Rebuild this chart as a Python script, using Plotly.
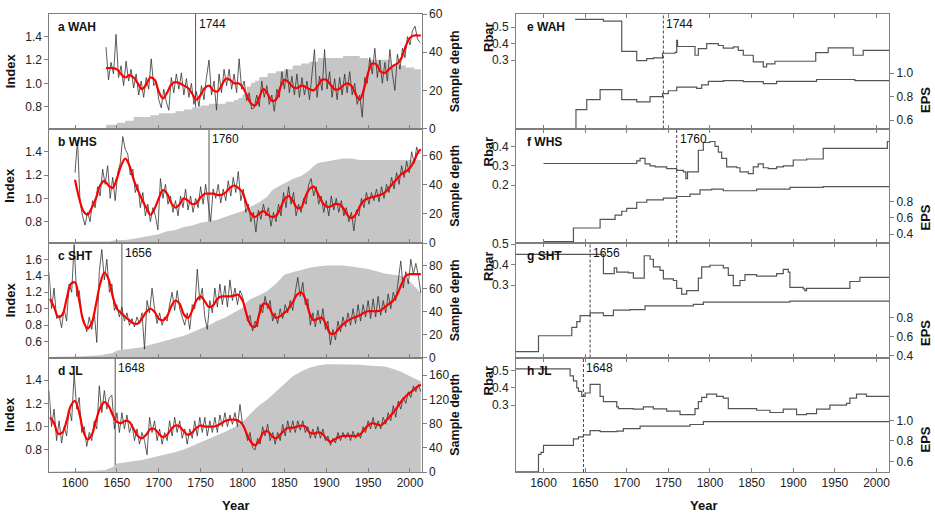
import plotly.graph_objects as go

FONT = "Liberation Sans, Arial, sans-serif"
W, H = 935, 513

# ---------------- data: ring-width index (raw, 3-yr steps) ----------------
raw_a_start = 1637
raw_a = [1.31, 1.03, 1.18, 1.08, 1.42, 1.05, 1.15, 0.98, 1.19, 1.02, 1.12, 0.96, 1.08, 0.90, 1.02, 0.88,
         1.05, 0.95, 1.21, 0.98, 1.02, 0.86, 0.79, 0.95, 0.84, 0.77, 1.05, 0.92, 1.08, 0.95, 1.09, 0.90,
         1.04, 0.88, 1.00, 0.82, 0.93, 0.80, 0.98, 0.86, 1.05, 1.20, 0.90, 1.02, 0.77, 1.08, 0.92, 1.12,
         0.98, 1.12, 0.95, 1.08, 0.92, 1.21, 0.95, 1.02, 0.85, 0.92, 0.78, 0.79, 0.90, 0.80, 1.02, 0.88,
         0.98, 0.82, 0.90, 0.76, 0.95, 0.88, 1.10, 0.95, 1.12, 0.92, 1.06, 0.90, 1.08, 0.88, 1.05, 0.90,
         1.02, 0.86, 1.08, 1.29, 0.88, 1.06, 0.94, 1.29, 0.95, 1.10, 0.88, 1.04, 0.86, 1.05, 0.90, 1.08,
         0.92, 1.10, 0.90, 1.00, 0.82, 0.90, 0.71, 1.05, 1.00, 1.22, 1.08, 1.30, 1.05, 1.20, 1.00, 1.18,
         1.02, 1.29, 1.08, 0.94, 1.25, 1.12, 1.30, 1.22, 1.40, 1.33, 1.45, 1.49, 1.38, 1.35]

raw_b_start = 1600
raw_b = [1.22, 1.50, 0.97, 0.85, 0.77, 0.88, 0.80, 0.98, 0.92, 1.10, 1.02, 1.25, 1.12, 1.28, 1.00, 1.18,
         0.98, 1.22, 1.30, 1.53, 1.42, 1.38, 1.20, 1.25, 1.05, 1.12, 0.92, 1.05, 0.85, 0.95, 0.80, 0.92,
         0.85, 0.73, 1.17, 1.00, 1.12, 0.95, 1.02, 0.88, 0.98, 0.85, 1.02, 0.92, 1.08, 0.90, 1.02, 0.88,
         1.00, 0.92, 1.10, 0.95, 1.12, 0.98, 0.80, 1.08, 1.00, 1.12, 0.96, 1.08, 0.98, 1.15, 1.02, 1.18,
         1.05, 1.23, 0.98, 1.08, 0.88, 0.95, 0.80, 0.88, 0.71, 0.90, 0.82, 0.95, 0.85, 0.92, 0.76, 0.88,
         0.80, 0.95, 0.85, 1.05, 0.92, 1.10, 0.95, 1.05, 0.85, 0.95, 0.88, 1.00, 0.95, 1.12, 1.17, 1.02,
         1.10, 0.95, 1.02, 0.88, 0.98, 0.85, 1.02, 0.90, 1.00, 0.88, 0.98, 0.85, 0.92, 0.80, 0.88, 0.72,
         0.90, 0.85, 1.00, 0.92, 1.05, 0.95, 1.05, 0.98, 1.08, 0.97, 1.10, 1.00, 1.12, 1.05, 1.18, 1.08,
         1.22, 1.12, 1.28, 1.18, 1.32, 1.22, 1.40, 1.30, 1.44, 1.38]

raw_c_start = 1569
raw_c = [1.44, 1.00, 1.25, 0.88, 0.92, 0.77, 1.00, 0.85, 1.30, 1.20, 1.78, 1.15, 1.22, 0.92, 0.85, 0.72,
         0.90, 0.75, 0.95, 0.59, 1.45, 1.72, 1.35, 1.60, 1.20, 1.30, 0.98, 1.05, 0.90, 1.02, 0.85, 0.95,
         0.80, 0.88, 0.78, 0.90, 0.82, 0.95, 0.51, 1.10, 0.95, 1.25, 1.00, 0.82, 0.95, 0.80, 0.90, 0.85,
         1.05, 1.20, 0.98, 1.22, 1.00, 0.90, 0.80, 0.95, 0.75, 1.05, 1.00, 1.48, 1.10, 1.25, 0.90, 0.75,
         1.10, 0.95, 1.25, 1.02, 1.30, 1.05, 1.28, 1.02, 1.35, 1.10, 1.25, 1.05, 1.22, 1.15, 1.00, 0.85,
         0.92, 0.73, 0.85, 0.78, 1.05, 0.95, 1.15, 1.00, 1.10, 0.85, 0.95, 0.82, 1.00, 0.88, 1.05, 0.95,
         1.10, 0.98, 1.20, 1.38, 1.15, 1.32, 1.05, 1.12, 0.80, 0.95, 0.78, 0.98, 0.82, 1.00, 0.75, 0.85,
         0.56, 0.75, 0.62, 0.85, 0.72, 0.90, 0.78, 0.95, 0.80, 1.00, 0.82, 1.05, 0.85, 1.05, 0.90, 1.10,
         0.88, 1.12, 0.90, 1.15, 0.92, 1.10, 0.95, 1.18, 1.00, 1.20, 1.10, 1.35, 1.58, 1.25, 1.45, 1.30,
         1.60, 1.42, 1.55, 1.40, 1.19]

raw_d_start = 1569
raw_d = [1.31, 1.00, 1.15, 0.88, 1.05, 0.86, 1.00, 0.92, 1.15, 1.05, 1.46, 1.15, 1.25, 0.95, 1.00, 0.83,
         0.95, 0.88, 1.05, 0.98, 1.35, 1.12, 1.31, 1.15, 1.25, 1.27, 0.98, 1.12, 0.95, 1.12, 0.98, 1.10,
         0.95, 1.02, 0.88, 0.98, 0.85, 0.95, 0.88, 0.76, 1.08, 0.95, 1.05, 0.88, 0.98, 0.85, 0.95, 0.88,
         1.05, 0.92, 1.08, 0.95, 1.05, 0.90, 0.98, 0.85, 0.98, 0.90, 1.05, 0.92, 1.08, 0.95, 1.08, 0.92,
         1.05, 0.95, 1.08, 0.95, 1.10, 1.00, 1.12, 1.00, 1.10, 1.02, 1.12, 1.00, 1.19, 1.02, 0.98, 0.88,
         0.95, 0.82, 0.80, 0.90, 0.85, 1.00, 0.92, 1.02, 0.88, 0.95, 0.85, 0.95, 0.88, 1.02, 0.92, 1.05,
         0.95, 1.05, 0.95, 1.05, 0.97, 1.05, 0.95, 1.00, 0.90, 0.98, 0.90, 1.00, 0.90, 0.98, 0.88, 0.92,
         0.84, 0.90, 0.86, 0.95, 0.88, 0.95, 0.90, 0.95, 0.88, 0.96, 0.90, 0.95, 0.90, 1.00, 0.95, 1.05,
         0.98, 1.08, 0.98, 1.05, 0.98, 1.08, 1.02, 1.12, 1.05, 1.18, 1.08, 1.22, 1.15, 1.25, 1.20, 1.30,
         1.25, 1.35, 1.30, 1.36, 1.30]

# ---------------- data: smoothed index (red) ----------------
red_a_years = [1637] + list(range(1645, 2011, 5)) + [2013]
red_a = [1.13, 1.13, 1.12, 1.08, 1.05, 1.07, 1.05, 1.00, 0.95, 0.99, 1.05, 1.03, 0.93, 0.87, 0.92, 0.99,
         1.01, 1.00, 0.98, 0.96, 0.91, 0.86, 0.90, 0.96, 0.98, 0.94, 0.93, 0.98, 1.04, 1.03, 1.00, 1.00,
         0.97, 0.90, 0.83, 0.81, 0.88, 0.95, 0.91, 0.85, 0.86, 0.96, 1.03, 1.01, 0.97, 0.96, 0.98, 0.97,
         0.95, 0.94, 0.98, 1.03, 1.03, 0.99, 0.95, 0.95, 0.98, 1.00, 0.98, 0.91, 0.86, 0.95, 1.09, 1.17,
         1.16, 1.10, 1.09, 1.12, 1.15, 1.17, 1.22, 1.32, 1.39, 1.41, 1.41, 1.41]

red_b_years = list(range(1600, 2011, 5)) + [2013]
red_b = [1.16, 1.00, 0.89, 0.86, 0.92, 1.00, 1.11, 1.15, 1.11, 1.09, 1.17, 1.28, 1.34, 1.28, 1.16, 1.07,
         0.99, 0.92, 0.86, 0.91, 1.00, 1.07, 1.04, 0.96, 0.92, 0.95, 1.00, 0.98, 0.95, 0.96, 1.01, 1.04,
         1.04, 1.04, 1.03, 1.03, 1.05, 1.09, 1.11, 1.09, 1.05, 0.95, 0.87, 0.84, 0.87, 0.89, 0.86, 0.84,
         0.85, 0.91, 0.99, 1.02, 0.98, 0.92, 0.92, 1.01, 1.08, 1.10, 1.04, 0.97, 0.93, 0.93, 0.95, 0.95,
         0.92, 0.86, 0.83, 0.86, 0.93, 0.98, 1.00, 1.01, 1.02, 1.03, 1.05, 1.09, 1.13, 1.17, 1.21, 1.23,
         1.26, 1.32, 1.40, 1.42]

red_c_years = list(range(1570, 2011, 5)) + [2013]
red_c = [1.12, 1.02, 0.90, 0.93, 1.12, 1.30, 1.32, 1.10, 0.85, 0.76, 0.83, 1.05, 1.30, 1.44, 1.36, 1.15,
         1.00, 0.95, 0.90, 0.86, 0.82, 0.82, 0.88, 0.96, 1.00, 0.96, 0.88, 0.86, 0.91, 1.03, 1.10, 1.06,
         0.93, 0.89, 0.98, 1.10, 1.15, 1.09, 1.02, 1.04, 1.12, 1.15, 1.15, 1.15, 1.16, 1.17, 1.10, 0.93,
         0.80, 0.78, 0.93, 1.06, 1.05, 0.95, 0.89, 0.91, 0.95, 1.00, 1.08, 1.17, 1.20, 1.12, 0.95, 0.86,
         0.88, 0.89, 0.80, 0.70, 0.70, 0.76, 0.81, 0.85, 0.88, 0.90, 0.92, 0.95, 0.97, 0.97, 0.97, 0.98,
         1.02, 1.06, 1.10, 1.18, 1.30, 1.40, 1.42, 1.42, 1.42, 1.42]

red_d_years = list(range(1570, 2011, 5)) + [2013]
red_d = [1.08, 1.03, 0.94, 0.95, 1.05, 1.18, 1.22, 1.12, 0.96, 0.89, 0.93, 1.05, 1.16, 1.21, 1.18, 1.10,
         1.04, 1.03, 1.05, 1.04, 0.98, 0.92, 0.90, 0.93, 0.98, 0.98, 0.94, 0.91, 0.93, 0.98, 1.01, 1.00,
         0.96, 0.93, 0.95, 0.99, 1.01, 1.00, 1.00, 1.00, 1.01, 1.03, 1.05, 1.06, 1.06, 1.05, 1.02, 0.94,
         0.87, 0.84, 0.88, 0.95, 0.96, 0.92, 0.90, 0.93, 0.97, 0.99, 0.99, 1.00, 1.01, 1.00, 0.95, 0.94,
         0.95, 0.94, 0.90, 0.87, 0.89, 0.91, 0.92, 0.92, 0.92, 0.92, 0.93, 0.97, 1.01, 1.03, 1.02, 1.01,
         1.04, 1.08, 1.12, 1.17, 1.22, 1.26, 1.29, 1.32, 1.35, 1.36]

# ---------------- data: sample depth ----------------
dep_a_years = [1637, 1650, 1660, 1670, 1680, 1690, 1700, 1710, 1720, 1730, 1740, 1750, 1760, 1770, 1780,
               1790, 1795, 1800, 1805, 1810, 1815, 1820, 1830, 1840, 1850, 1860, 1870, 1880, 1890, 1900,
               1910, 1920, 1930, 1940, 1950, 1960, 1970, 1977, 1985, 1995, 2005, 2013]
dep_a = [2, 3, 4, 6, 6, 7, 8, 8, 9, 10, 11, 12, 13, 13, 14, 15, 16, 18, 22, 24, 25, 27, 29, 30, 31, 33,
         34, 35, 37, 37, 37, 38, 38, 37, 36, 36, 36, 33, 33, 32, 31, 31]

dep_b_years = [1600, 1620, 1640, 1650, 1660, 1670, 1680, 1690, 1700, 1710, 1720, 1730, 1740, 1750, 1760,
               1770, 1780, 1790, 1800, 1810, 1820, 1830, 1835, 1840, 1850, 1860, 1870, 1880, 1885, 1890,
               1900, 1910, 1920, 1930, 1940, 1950, 1960, 1970, 1980, 1990, 2000, 2013]
dep_b = [1, 1, 1, 2, 2, 3, 4, 5, 6, 8, 9, 11, 12, 14, 15, 16, 18, 20, 22, 25, 28, 32, 36, 38, 41, 44,
         46, 50, 53, 55, 56, 57, 58, 58, 57, 57, 57, 57, 57, 57, 57, 57]

dep_c_years = [1569, 1590, 1610, 1630, 1645, 1650, 1660, 1670, 1680, 1690, 1700, 1710, 1720, 1730, 1740,
               1750, 1760, 1770, 1780, 1790, 1800, 1805, 1810, 1820, 1830, 1840, 1850, 1860, 1870, 1880,
               1890, 1900, 1910, 1920, 1930, 1940, 1950, 1960, 1970, 1980, 1990, 2000, 2005, 2010, 2013]
dep_c = [0.5, 0.6, 1, 2, 4, 6, 7, 8, 9, 11, 13, 15, 17, 19, 22, 25, 28, 32, 35, 39, 43, 48, 51, 54, 58,
         64, 72, 74, 76, 78, 79, 80, 80, 80, 79, 78, 77, 75, 73, 72, 71, 66, 62, 58, 56]

dep_d_years = [1569, 1600, 1620, 1635, 1645, 1650, 1660, 1670, 1680, 1690, 1700, 1710, 1720, 1730, 1740,
               1750, 1760, 1770, 1780, 1790, 1800, 1810, 1820, 1830, 1840, 1850, 1860, 1870, 1880, 1890,
               1900, 1910, 1920, 1930, 1940, 1950, 1960, 1970, 1980, 1990, 2000, 2010, 2013]
dep_d = [0.5, 1, 2, 3, 8, 14, 16, 17, 20, 23, 26, 29, 33, 37, 43, 49, 54, 60, 67, 74, 82, 97, 110, 120,
         133, 146, 158, 166, 172, 176, 178, 178, 178, 178, 177, 176, 175, 174, 170, 165, 158, 151, 150]

# ---------------- data: Rbar and EPS (running statistics) ----------------
rbar_e_years = [1638, 1672, 1694, 1712, 1724, 1732, 1743, 1758, 1760, 1761, 1782, 1786, 1796, 1810, 1816,
                1828, 1834, 1840, 1852, 1864, 1868, 1878, 1927, 1942, 1972, 1984, 2015]
rbar_e = [0.546, 0.536, 0.353, 0.298, 0.31, 0.314, 0.342, 0.348, 0.42, 0.383, 0.33, 0.37, 0.40, 0.389,
          0.373, 0.38, 0.36, 0.33, 0.29, 0.26, 0.278, 0.294, 0.346, 0.375, 0.33, 0.36, 0.36]
eps_e_years = [1638, 1639, 1652, 1668, 1694, 1712, 1728, 1743, 1750, 1760, 1784, 1790, 1798, 1816, 1840,
               1864, 1880, 1928, 1974, 2015]
eps_e = [0.53, 0.69, 0.775, 0.86, 0.775, 0.755, 0.80, 0.825, 0.85, 0.88, 0.87, 0.90, 0.93, 0.935, 0.927,
         0.91, 0.93, 0.945, 0.936, 0.936]

rbar_f_years = [1600, 1712, 1716, 1722, 1728, 1734, 1748, 1760, 1768, 1771, 1773, 1786, 1792, 1800, 1806,
                1810, 1814, 1820, 1832, 1836, 1846, 1852, 1858, 1864, 1870, 1880, 1888, 1900, 1916, 1936,
                2013, 2015]
rbar_f = [0.312, 0.325, 0.338, 0.310, 0.300, 0.295, 0.286, 0.277, 0.269, 0.234, 0.269, 0.38, 0.42, 0.425,
          0.40, 0.37, 0.338, 0.295, 0.29, 0.269, 0.26, 0.295, 0.31, 0.29, 0.286, 0.295, 0.30, 0.33, 0.335,
          0.39, 0.425, 0.425]
eps_f_years = [1600, 1636, 1668, 1686, 1694, 1700, 1712, 1724, 1744, 1760, 1776, 1788, 1802, 1816, 1856,
               1896, 1936, 2015]
eps_f = [0.31, 0.476, 0.58, 0.633, 0.68, 0.715, 0.79, 0.82, 0.84, 0.86, 0.89, 0.94, 0.95, 0.93, 0.95,
         0.97, 0.98, 0.98]

rbar_g_years = [1567, 1672, 1685, 1688, 1702, 1708, 1721, 1728, 1732, 1740, 1744, 1756, 1760, 1766, 1772,
                1786, 1790, 1800, 1816, 1822, 1828, 1836, 1842, 1856, 1880, 1888, 1894, 1896, 1912, 1914,
                1916, 1968, 1980, 2015]
rbar_g = [0.45, 0.356, 0.384, 0.364, 0.36, 0.334, 0.443, 0.426, 0.389, 0.372, 0.331, 0.323, 0.285, 0.257,
          0.274, 0.334, 0.389, 0.397, 0.384, 0.348, 0.298, 0.323, 0.351, 0.344, 0.356, 0.377, 0.364, 0.29,
          0.282, 0.274, 0.285, 0.318, 0.338, 0.338]
eps_g_years = [1567, 1594, 1634, 1640, 1644, 1656, 1672, 1684, 1704, 1722, 1760, 1780, 1792, 1896, 2015]
eps_g = [0.44, 0.61, 0.70, 0.76, 0.825, 0.855, 0.825, 0.884, 0.89, 0.93, 0.93, 0.945, 0.97, 0.98, 0.97]

rbar_h_years = [1567, 1632, 1636, 1640, 1642, 1646, 1650, 1656, 1668, 1672, 1688, 1690, 1708, 1720, 1732,
                1748, 1764, 1778, 1782, 1786, 1790, 1796, 1808, 1816, 1822, 1856, 1872, 1888, 1904, 1916,
                1928, 1944, 1964, 1968, 1976, 1988, 2015]
rbar_h = [0.51, 0.47, 0.44, 0.40, 0.38, 0.35, 0.37, 0.42, 0.35, 0.32, 0.29, 0.28, 0.277, 0.29, 0.278,
          0.265, 0.245, 0.245, 0.28, 0.32, 0.345, 0.364, 0.35, 0.34, 0.28, 0.27, 0.257, 0.277, 0.245, 0.25,
          0.277, 0.30, 0.31, 0.34, 0.364, 0.35, 0.35]
eps_h_years = [1567, 1594, 1597, 1600, 1632, 1636, 1642, 1648, 1656, 1668, 1688, 1696, 1716, 1776, 1792, 2015]
eps_h = [0.50, 0.67, 0.69, 0.757, 0.757, 0.82, 0.84, 0.86, 0.90, 0.89, 0.895, 0.92, 0.944, 0.96, 0.987, 0.99]

sites = ["WAH", "WHS", "SHT", "JL"]
marked_years = [1744, 1760, 1656, 1648]
year_ticks = [1600, 1650, 1700, 1750, 1800, 1850, 1900, 1950, 2000]

for nm, ys, vs in [("red_a", red_a_years, red_a), ("red_b", red_b_years, red_b),
                   ("red_c", red_c_years, red_c), ("red_d", red_d_years, red_d),
                   ("dep_a", dep_a_years, dep_a), ("dep_b", dep_b_years, dep_b),
                   ("dep_c", dep_c_years, dep_c), ("dep_d", dep_d_years, dep_d),
                   ("rbar_e", rbar_e_years, rbar_e), ("eps_e", eps_e_years, eps_e),
                   ("rbar_f", rbar_f_years, rbar_f), ("eps_f", eps_f_years, eps_f),
                   ("rbar_g", rbar_g_years, rbar_g), ("eps_g", eps_g_years, eps_g),
                   ("rbar_h", rbar_h_years, rbar_h), ("eps_h", eps_h_years, eps_h)]:
    assert len(ys) == len(vs), (nm, len(ys), len(vs))

# ---------------- layout geometry (pixels) ----------------
LX = (49.3, 421.7)
RX = (516.0, 889.0)
PY = [(14, 128.5), (128.5, 243), (243, 357.5), (357.5, 472)]
L_XRANGE = [1569.3, 2014.0]
R_XRANGE = [1567.0, 2015.0]

def pxx(p):
    return p / W

def pxy(p):
    return 1 - p / H

def xk(n): return 'xaxis' if n == 1 else f'xaxis{n}'
def yk(n): return 'yaxis' if n == 1 else f'yaxis{n}'
def xr(n): return 'x' if n == 1 else f'x{n}'
def yr(n): return 'y' if n == 1 else f'y{n}'

TICKFONT = dict(family=FONT, size=12, color='#222')
AXCOL = '#7f7f7f'

left_cfg = [
    dict(raw_start=raw_a_start, raw=raw_a, ry=red_a_years, rv=red_a, dy=dep_a_years, dv=dep_a, dshape='hv',
         irange=[0.613, 1.594], itick=[0.8, 1.0, 1.2, 1.4], drange=[0, 60], dtick=[0, 20, 40, 60]),
    dict(raw_start=raw_b_start, raw=raw_b, ry=red_b_years, rv=red_b, dy=dep_b_years, dv=dep_b, dshape='linear',
         irange=[0.617, 1.599], itick=[0.8, 1.0, 1.2, 1.4], drange=[0, 78.7], dtick=[0, 20, 40, 60]),
    dict(raw_start=raw_c_start, raw=raw_c, ry=red_c_years, rv=red_c, dy=dep_c_years, dv=dep_c, dshape='linear',
         irange=[0.408, 1.798], itick=[0.6, 0.8, 1.0, 1.2, 1.4, 1.6], drange=[0, 99.5], dtick=[0, 20, 40, 60, 80]),
    dict(raw_start=raw_d_start, raw=raw_d, ry=red_d_years, rv=red_d, dy=dep_d_years, dv=dep_d, dshape='linear',
         irange=[0.611, 1.593], itick=[0.8, 1.0, 1.2, 1.4], drange=[0, 189], dtick=[0, 40, 80, 120, 160]),
]
right_cfg = [
    dict(ry=rbar_e_years, rv=rbar_e, ey=eps_e_years, ev=eps_e, rrange=[-0.112, 0.579], rtick=[0.3, 0.4, 0.5],
         erange=[0.53, 1.50], etick=[0.6, 0.8, 1.0], eps_off=86),
    dict(ry=rbar_f_years, rv=rbar_f, ey=eps_f_years, ev=eps_f, rrange=[-0.097, 0.492], rtick=[0.2, 0.3, 0.4],
         erange=[0.293, 1.689], etick=[0.4, 0.6, 0.8], eps_off=89),
    dict(ry=rbar_g_years, rv=rbar_g, ey=eps_g_years, ev=eps_g, rrange=[-0.051, 0.505], rtick=[0.3, 0.4, 0.5],
         erange=[0.378, 1.60], etick=[0.4, 0.6, 0.8], eps_off=90),
    dict(ry=rbar_h_years, rv=rbar_h, ey=eps_h_years, ev=eps_h, rrange=[-0.088, 0.576], rtick=[0.3, 0.4, 0.5],
         erange=[0.499, 1.61], etick=[0.6, 0.8, 1.0], eps_off=82),
]

fig = go.Figure()
layout = {}
shapes = []
annotations = []

def ann(text, x, y, size=12, bold=False, angle=0, xanchor='center', yanchor='middle', xref='paper', xshift=0):
    annotations.append(dict(text=f"<b>{text}</b>" if bold else text, x=x, y=y, xref=xref, yref='paper',
                            showarrow=False, textangle=angle, xanchor=xanchor, yanchor=yanchor, xshift=xshift,
                            font=dict(family=FONT, size=size, color='#111')))

letters_left = ['a', 'b', 'c', 'd']
letters_right = ['e', 'f', 'g', 'h']

for i, c in enumerate(left_cfg):
    xn = i + 1
    yb = 2 * i + 1
    yo = 2 * i + 2
    top, bot = PY[i]
    dom_y = [pxy(bot), pxy(top)]
    fig.add_trace(go.Scatter(x=c['dy'], y=c['dv'], mode='lines', line=dict(width=0, shape=c['dshape']),
                             fill='tozeroy', fillcolor='#c6c6c6', xaxis=xr(xn), yaxis=yr(yb),
                             hoverinfo='skip', showlegend=False))
    raw_years = [c['raw_start'] + 3 * k for k in range(len(c['raw']))]
    fig.add_trace(go.Scatter(x=raw_years, y=c['raw'], mode='lines', line=dict(color='#333333', width=0.8),
                             xaxis=xr(xn), yaxis=yr(yo), showlegend=False))
    fig.add_trace(go.Scatter(x=c['ry'], y=c['rv'], mode='lines',
                             line=dict(color='#ff0000', width=2.2, shape='spline', smoothing=1.0),
                             xaxis=xr(xn), yaxis=yr(yo), showlegend=False))
    layout[xk(xn)] = dict(domain=[pxx(LX[0]), pxx(LX[1])], anchor=yr(yb), range=L_XRANGE,
                          tickvals=year_ticks, ticks='inside', ticklen=4, tickcolor=AXCOL,
                          showline=True, linecolor=AXCOL, linewidth=1, mirror=True,
                          showticklabels=(i == 3), tickfont=TICKFONT, showgrid=False, zeroline=False)
    layout[yk(yb)] = dict(domain=dom_y, anchor=xr(xn), side='right', range=c['drange'], tickvals=c['dtick'],
                          ticks='outside', ticklen=4, tickcolor=AXCOL, showline=True, linecolor=AXCOL,
                          linewidth=1, tickfont=TICKFONT, showgrid=False, zeroline=False)
    layout[yk(yo)] = dict(overlaying=yr(yb), anchor=xr(xn), side='left', range=c['irange'],
                          tickvals=c['itick'], tickformat='.1f', ticks='outside', ticklen=4, tickcolor=AXCOL,
                          showline=True, linecolor=AXCOL, linewidth=1, tickfont=TICKFONT,
                          showgrid=False, zeroline=False)
    yr_mark = marked_years[i]
    shapes.append(dict(type='line', xref=xr(xn), yref=f'{yr(yb)} domain', x0=yr_mark, x1=yr_mark, y0=0, y1=1,
                       line=dict(color='#555555', width=1), layer='below'))
    ann(f"{letters_left[i]} {sites[i]}", pxx(LX[0] + 7), pxy(top + 13), size=12, bold=True, xanchor='left')
    ann(str(yr_mark), yr_mark, pxy(top + 10), size=12, xanchor='left', xref=xr(xn), xshift=1)
    ann("Index", pxx(10), pxy((top + bot) / 2), size=13, bold=True, angle=-90)
    ann("Sample depth", pxx(455), pxy((top + bot) / 2), size=12.5, bold=True, angle=-90)

for j, c in enumerate(right_cfg):
    i = j + 4
    xn = i + 1
    yb = 2 * i + 1
    yo = 2 * i + 2
    top, bot = PY[j]
    dom_y = [pxy(bot), pxy(top)]
    fig.add_trace(go.Scatter(x=c['ry'], y=c['rv'], mode='lines', line=dict(color='#555555', width=1.2, shape='hv'),
                             xaxis=xr(xn), yaxis=yr(yb), showlegend=False))
    fig.add_trace(go.Scatter(x=c['ey'], y=c['ev'], mode='lines', line=dict(color='#555555', width=1.2, shape='hv'),
                             xaxis=xr(xn), yaxis=yr(yo), showlegend=False))
    layout[xk(xn)] = dict(domain=[pxx(RX[0]), pxx(RX[1])], anchor=yr(yb), range=R_XRANGE,
                          tickvals=year_ticks, ticks='inside', ticklen=4, tickcolor=AXCOL,
                          showline=True, linecolor=AXCOL, linewidth=1, mirror='ticks',
                          showticklabels=(j == 3), tickfont=TICKFONT, showgrid=False, zeroline=False)
    layout[yk(yb)] = dict(domain=dom_y, anchor=xr(xn), side='left', range=c['rrange'], tickvals=c['rtick'],
                          tickformat='.1f', ticks='outside', ticklen=4, tickcolor=AXCOL, showline=True,
                          linecolor=AXCOL, linewidth=1, tickfont=TICKFONT, showgrid=False, zeroline=False)
    layout[yk(yo)] = dict(overlaying=yr(yb), anchor=xr(xn), side='right', range=c['erange'],
                          tickvals=c['etick'], tickformat='.1f', ticks='outside', ticklen=4, tickcolor=AXCOL,
                          showline=True, linecolor=AXCOL, linewidth=1, tickfont=TICKFONT,
                          showgrid=False, zeroline=False)
    yr_mark = marked_years[j]
    shapes.append(dict(type='line', xref=xr(xn), yref=f'{yr(yb)} domain', x0=yr_mark, x1=yr_mark, y0=0, y1=1,
                       line=dict(color='#444444', width=1, dash='3px,2px')))
    ann(f"{letters_right[j]} {sites[j]}", pxx(RX[0] + 9), pxy(top + 13), size=12, bold=True, xanchor='left')
    ann(str(yr_mark), yr_mark, pxy(top + 10), size=12, xanchor='left', xref=xr(xn), xshift=1)
    ann("Rbar", pxx(488), pxy(top + 23), size=13, bold=True, angle=-90)
    ann("EPS", pxx(925), pxy(top + c['eps_off']), size=13, bold=True, angle=-90)

ann("Year", pxx(235), pxy(505), size=13, bold=True)
ann("Year", pxx(703), pxy(505), size=13, bold=True)

fig.update_layout(**layout)
fig.update_layout(width=W, height=H, margin=dict(l=0, r=0, t=0, b=0, pad=0), template='none',
                  paper_bgcolor='white', plot_bgcolor='white', showlegend=False,
                  shapes=shapes, annotations=annotations, font=dict(family=FONT, size=12, color='#222'))
fig.write_html("out.html", config={'displayModeBar': False},
               post_script="document.body.style.margin='0';document.body.style.padding='0';"
                           "document.body.style.overflow='hidden';")
